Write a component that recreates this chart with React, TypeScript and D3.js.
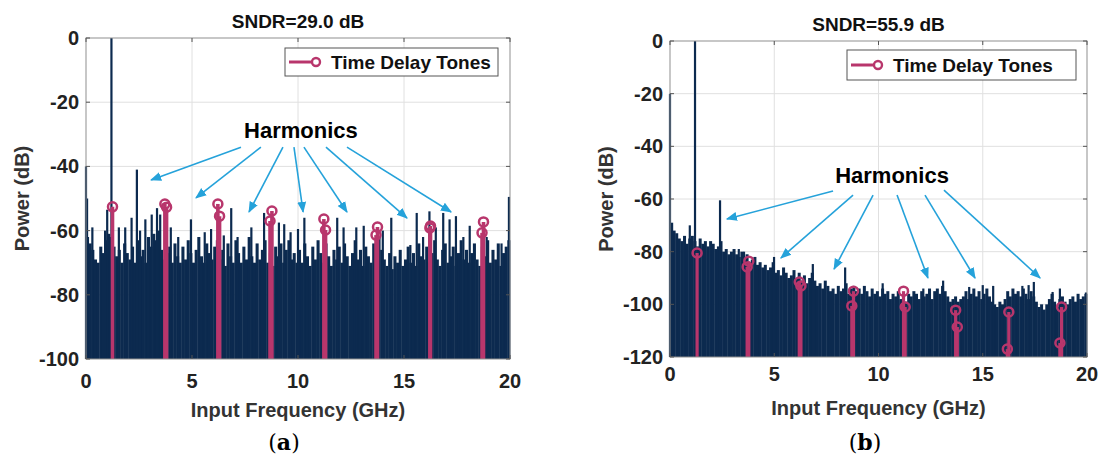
import React from 'react'
import { scaleLinear, range } from 'd3'

// frequency axis shared by both spectra
const xTicks = [0, 5, 10, 15, 20]
const binWidth = 0.125

// (a) noise floor, one value per 0.125 GHz bin (dB)
const noiseA = [
  -62, -64, -66, -69, -70, -65, -67, -63, -61, -62, -65, -68, -66, -70, -64, -67,
  -69, -65, -70, -63, -68, -66, -70, -62, -65, -61, -63, -60, -66, -69, -67, -65,
  -70, -64, -68, -70, -65, -69, -63, -67, -70, -66, -62, -68, -70, -64, -67, -69,
  -65, -63, -69, -66, -71, -64, -68, -70, -63, -67, -70, -65, -69, -62, -68, -70,
  -64, -69, -66, -63, -70, -67, -71, -65, -68, -64, -70, -66, -63, -69, -67, -70,
  -66, -70, -64, -68, -71, -65, -69, -63, -67, -70, -64, -68, -71, -66, -69, -65,
  -70, -64, -68, -71, -67, -63, -69, -66, -71, -65, -68, -70, -64, -67, -62, -66,
  -69, -71, -67, -72, -68, -70, -66, -71, -69, -65, -70, -67, -71, -64, -68, -69,
  -65, -70, -67, -63, -69, -71, -66, -64, -70, -68, -65, -71, -67, -63, -69, -66,
  -70, -67, -64, -69, -71, -65, -68, -63, -70, -66, -69, -64, -71, -67, -65, -63
]

// (a) individual spectral lines [GHz, dB]
const spikesA: [number, number][] = [
  [0, -40], [0.05, -50], [0.3, -59], [0.9, -60], [1.0, -53.5], [1.2, 0], [1.55, -59],
  [1.85, -59], [2.15, -56], [2.4, -41], [2.55, -60], [2.8, -56.5], [3.1, -55], [3.35, -53],
  [3.5, -55], [4.0, -59], [4.35, -62], [4.95, -56.5], [5.6, -60.5], [5.9, -59.5],
  [6.5, -61.5], [6.85, -53], [7.15, -62], [7.8, -59], [8.4, -54.5], [9.1, -57.5],
  [9.35, -58], [9.65, -60.5], [10.0, -59.5], [10.3, -56], [11.85, -56], [12.15, -59],
  [12.75, -59], [13.1, -58.5], [14.0, -60], [14.4, -56], [15.3, -64.5], [15.6, -54.5],
  [15.9, -62], [16.2, -54], [16.5, -59], [16.85, -54.5], [17.15, -56.5], [17.45, -55.5],
  [17.8, -62], [18.1, -58.5], [18.9, -62], [19.6, -64], [19.95, -49.5]
]

// (a) time delay tones
const toneFreqA = [1.25, 3.72, 6.22, 8.77, 11.22, 13.75, 16.25, 18.75]
const toneHighA = [-52.6, -51.7, -51.7, -53.9, -56.4, -58.9, -58.6, -57.3]
const toneLowFreqA = [1.25, 3.8, 6.3, 8.68, 11.3, 13.68, 16.22, 18.68]
const toneLowA = [null, -52.7, -55.5, -57, -59.8, -61.4, -59.2, -60.7]

// (b) noise floor (dB)
const noiseB = [
  -70, -72, -73, -75, -76, -74, -77, -75, -74, -76, -78, -75, -77, -76, -78, -76,
  -77, -79, -78, -76, -80, -79, -81, -80, -79, -81, -82, -80, -83, -81, -84, -83,
  -82, -85, -84, -86, -85, -87, -86, -84, -88, -87, -89, -86, -88, -90, -89, -87,
  -90, -88, -91, -89, -92, -90, -88, -91, -93, -92, -94, -91, -93, -95, -94, -96,
  -93, -95, -94, -92, -96, -94, -93, -95, -94, -96, -93, -95, -97, -94, -96, -95,
  -97, -94, -96, -95, -98, -96, -97, -95, -98, -97, -99, -96, -97, -95, -96, -98,
  -95, -97, -96, -94, -98, -95, -94, -96, -93, -95, -97, -99, -98, -97, -99, -98,
  -97, -95, -98, -96, -94, -97, -95, -98, -96, -94, -97, -99, -100, -101, -99, -100,
  -98, -95, -97, -94, -96, -95, -97, -94, -96, -98, -95, -97, -99, -101, -100, -102,
  -100, -98, -96, -99, -101, -98, -97, -99, -100, -98, -97, -99, -96, -98, -97, -96
]

const spikesB: [number, number][] = [
  [0, -20], [0.1, -69], [0.95, -70], [1.2, 0], [2.4, -60.5], [3.3, -79], [3.55, -80],
  [4.99, -82], [6.85, -84.7], [8.4, -86], [10.2, -92], [12.15, -94], [13.1, -91],
  [14.35, -93.4], [15.0, -92.7], [15.5, -93], [16.9, -93], [17.2, -92.7], [17.45, -91.5],
  [18.35, -95.3], [18.7, -94], [19.95, -95.5]
]

const toneFreqB = [1.3, 3.78, 6.2, 8.8, 11.2, 13.7, 16.25, 18.78]
const toneHighB = [-80.5, -83.6, -91.5, -95, -95, -102.2, -102.9, -101]
const toneLowFreqB = [1.3, 3.7, 6.28, 8.72, 11.28, 13.78, 16.18, 18.7]
const toneLowB = [null, -85.8, -93, -100.6, -101, -108.6, -117, -114.7]

// harmonic annotation arrows, [startF, startDb, tipF, tipDb]
const arrowsA = [
  [7.31, -34, 3.07, -44.2], [8.25, -34, 5.19, -49.8], [9.29, -34, 7.69, -54.2],
  [9.81, -34, 10.24, -54.2], [10.28, -34, 12.31, -54.2], [11.32, -34, 15.14, -56.1],
  [12.31, -34, 17.22, -54.2]
]
const arrowsB = [
  [7.82, -57, 2.73, -67.6], [8.78, -58.5, 5.32, -82.4], [9.74, -58.5, 7.87, -86.6],
  [10.89, -58.5, 12.37, -90], [12.23, -58.5, 14.63, -90], [13.14, -56.6, 17.75, -90]
]

const NAVY = '#0c2a4f'
const TONE = '#b8366c'
const ARROW = '#25a2da'
const FONT = 'Liberation Sans, Arial, Helvetica, sans-serif'

type PanelProps = {
  left: number; right: number; top: number; bottom: number
  yMin: number; yTicks: number[]
  noise: number[]; spikes: [number, number][]
  toneFreq: number[]; toneHigh: number[]; toneLowFreq: number[]; toneLow: (number | null)[]
  arrows: number[][]; harm: [number, number]
  title: string; titleY: number
  legend: { x: number; y: number; w: number; h: number }
  tickY: number; labelY: number; tag: string; tagX: number
  stemW: number
}

function Panel(p: PanelProps) {
  const x = scaleLinear().domain([0, 20]).range([p.left, p.right])
  const y = scaleLinear().domain([0, p.yMin]).range([p.top, p.bottom])
  const cx = (p.left + p.right) / 2
  const bw = x(binWidth) - x(0)
  const id = 'ah' + p.tag

  return (
    <g>
      <defs>
        <marker id={id} viewBox="0 0 10 10" refX="9" refY="5" markerWidth="7" markerHeight="7" orient="auto">
          <path d="M0,1 L10,5 L0,9 z" fill={ARROW} />
        </marker>
      </defs>
      <rect x={p.left} y={p.top} width={p.right - p.left} height={p.bottom - p.top} fill="#fff" />
      {/* grid */}
      {xTicks.slice(1, -1).map(t => (
        <line key={'gx' + t} x1={x(t)} x2={x(t)} y1={p.top} y2={p.bottom} stroke="#e0e0e0" />
      ))}
      {p.yTicks.slice(1, -1).map(t => (
        <line key={'gy' + t} x1={p.left} x2={p.right} y1={y(t)} y2={y(t)} stroke="#e0e0e0" />
      ))}
      {/* spectrum */}
      {p.noise.map((v, i) => (
        <rect key={'n' + i} x={x(i * binWidth)} width={bw + 0.4} y={y(v)} height={p.bottom - y(v)} fill={NAVY} />
      ))}
      {p.spikes.map(([f, v], i) => (
        <line key={'s' + i} x1={x(f)} x2={x(f)} y1={p.bottom} y2={y(v)} stroke={NAVY} strokeWidth={2.2} />
      ))}
      {/* time delay tones */}
      {p.toneFreq.map((f, i) => {
        const lo = p.toneLow[i]
        return (
          <g key={'t' + i}>
            <line x1={x(f)} x2={x(f)} y1={p.bottom} y2={y(p.toneHigh[i])} stroke={TONE} strokeWidth={p.stemW} />
            {lo !== null && (
              <line x1={x(p.toneLowFreq[i])} x2={x(p.toneLowFreq[i])} y1={p.bottom} y2={y(lo)} stroke={TONE} strokeWidth={p.stemW} />
            )}
            <circle cx={x(f)} cy={y(p.toneHigh[i])} r={4.5} fill="none" stroke={TONE} strokeWidth={2.5} />
            {lo !== null && (
              <circle cx={x(p.toneLowFreq[i])} cy={y(lo)} r={4.5} fill="none" stroke={TONE} strokeWidth={2.5} />
            )}
          </g>
        )
      })}
      {/* frame and ticks */}
      <rect x={p.left} y={p.top} width={p.right - p.left} height={p.bottom - p.top} fill="none" stroke="#8f8f8f" strokeWidth={1} />
      {xTicks.map(t => (
        <g key={'xt' + t}>
          <line x1={x(t)} x2={x(t)} y1={p.bottom} y2={p.bottom - 4} stroke="#555" />
          <line x1={x(t)} x2={x(t)} y1={p.top} y2={p.top + 4} stroke="#555" />
          <text x={x(t)} y={p.tickY} textAnchor="middle" fontFamily={FONT} fontWeight="bold" fontSize={20} fill="#222">{t}</text>
        </g>
      ))}
      {p.yTicks.map(t => (
        <g key={'yt' + t}>
          <line x1={p.left} x2={p.left + 4} y1={y(t)} y2={y(t)} stroke="#555" />
          <line x1={p.right} x2={p.right - 4} y1={y(t)} y2={y(t)} stroke="#555" />
          <text x={p.left - 7} y={y(t) + 7} textAnchor="end" fontFamily={FONT} fontWeight="bold" fontSize={20} fill="#222">{t}</text>
        </g>
      ))}
      {/* annotations */}
      <text x={x(p.harm[0])} y={y(p.harm[1])} textAnchor="middle" fontFamily={FONT} fontWeight="bold" fontSize={22} fill="#000">Harmonics</text>
      {p.arrows.map((a, i) => (
        <line key={'a' + i} x1={x(a[0])} y1={y(a[1])} x2={x(a[2])} y2={y(a[3])} stroke={ARROW} strokeWidth={1.6} markerEnd={`url(#${id})`} />
      ))}
      {/* legend */}
      <rect x={p.legend.x} y={p.legend.y} width={p.legend.w} height={p.legend.h} fill="#fff" stroke="#555" strokeWidth={1} />
      <line x1={p.legend.x + 4} x2={p.legend.x + 30} y1={p.legend.y + p.legend.h / 2} y2={p.legend.y + p.legend.h / 2} stroke={TONE} strokeWidth={3} />
      <circle cx={p.legend.x + 31} cy={p.legend.y + p.legend.h / 2} r={4} fill="#fff" stroke={TONE} strokeWidth={2.4} />
      <text x={p.legend.x + 46} y={p.legend.y + p.legend.h / 2 + 7} fontFamily={FONT} fontWeight="bold" fontSize={19} fill="#111">Time Delay Tones</text>
      {/* titles */}
      <text x={cx} y={p.titleY} textAnchor="middle" fontFamily={FONT} fontWeight="bold" fontSize={19} fill="#111">{p.title}</text>
      <text x={cx} y={p.labelY} textAnchor="middle" fontFamily={FONT} fontWeight="bold" fontSize={20} fill="#333">Input Frequency (GHz)</text>
      <text transform={`translate(${p.left - 57},${(p.top + p.bottom) / 2}) rotate(-90)`} textAnchor="middle" fontFamily={FONT} fontWeight="bold" fontSize={20} fill="#333">Power (dB)</text>
      <text x={p.tagX} y={450} textAnchor="middle" fontFamily="DejaVu Serif, Liberation Serif, serif" fontSize={22} fill="#000">
        (<tspan fontWeight="bold">{p.tag}</tspan>)
      </text>
    </g>
  )
}

export default function App() {
  return (
    <svg width={1100} height={457} style={{ position: 'absolute', left: 0, top: 0, background: '#fff' }}>
      <Panel
        left={86} right={510} top={38} bottom={359} yMin={-100} yTicks={range(0, -101, -20)}
        noise={noiseA} spikes={spikesA}
        toneFreq={toneFreqA} toneHigh={toneHighA} toneLowFreq={toneLowFreqA} toneLow={toneLowA}
        arrows={arrowsA} harm={[10.14, -31.2]}
        title="SNDR=29.0 dB" titleY={28}
        legend={{ x: 285, y: 48, w: 213, h: 28 }}
        tickY={388} labelY={417} tag="a" tagX={284} stemW={3.6}
      />
      <Panel
        left={670} right={1087} top={41} bottom={357} yMin={-120} yTicks={range(0, -121, -20)}
        noise={noiseB} spikes={spikesB}
        toneFreq={toneFreqB} toneHigh={toneHighB} toneLowFreq={toneLowFreqB} toneLow={toneLowB}
        arrows={arrowsB} harm={[10.65, -53.9]}
        title="SNDR=55.9 dB" titleY={31}
        legend={{ x: 847, y: 50, w: 229, h: 30 }}
        tickY={381} labelY={415} tag="b" tagX={865} stemW={3.2}
      />
    </svg>
  )
}
